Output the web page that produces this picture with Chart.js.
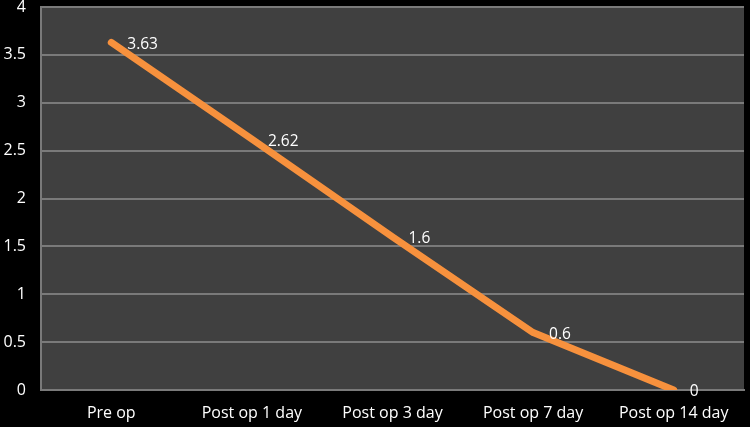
<!DOCTYPE html>
<html>
<head>
<meta charset="utf-8">
<script src="https://cdn.jsdelivr.net/npm/chart.js@4/dist/chart.umd.min.js"></script>
<style>
html,body{margin:0;padding:0;background:#000;}
#wrap{width:750px;height:427px;}
</style>
</head>
<body>
<div id="wrap"><canvas id="c" width="750" height="427"></canvas></div>
<script>
const categories = ["Pre op", "Post op 1 day", "Post op 3 day", "Post op 7 day", "Post op 14 day"];
const values = [3.63, 2.62, 1.6, 0.6, 0];
const yTicks = [0, 0.5, 1, 1.5, 2, 2.5, 3, 3.5, 4];

const FONT = '"Open Sans", "DejaVu Sans", sans-serif';

const bgPlugin = {
  id: 'bg',
  beforeDraw(chart) {
    const {ctx, chartArea: a} = chart;
    ctx.save();
    ctx.fillStyle = '#000';
    ctx.fillRect(0, 0, chart.width, chart.height);
    ctx.fillStyle = '#404040';
    ctx.fillRect(a.left, a.top, a.right - a.left, a.bottom - a.top);
    ctx.restore();
  }
};
const labelPlugin = {
  id: 'labels',
  afterDatasetsDraw(chart) {
    const {ctx} = chart;
    const meta = chart.getDatasetMeta(0);
    ctx.save();
    ctx.fillStyle = '#ffffff';
    ctx.font = '15.5px ' + FONT;
    ctx.textAlign = 'left';
    ctx.textBaseline = 'middle';
    meta.data.forEach((pt, i) => {
      ctx.fillText(String(values[i]), pt.x + 16, pt.y + 2);
    });
    ctx.restore();
  }
};

new Chart(document.getElementById('c'), {
  type: 'line',
  data: {
    labels: categories,
    datasets: [{
      data: values,
      borderColor: '#F7913D',
      borderWidth: 7,
      borderCapStyle: 'round',
      borderJoinStyle: 'round',
      pointRadius: 0,
      tension: 0,
      fill: false
    }]
  },
  options: {
    responsive: false,
    animation: false,
    devicePixelRatio: 1,
    layout: {padding: {left: 0, top: 7, right: 6, bottom: 0}},
    plugins: {legend: {display: false}, tooltip: {enabled: false}},
    scales: {
      x: {
        offset: true,
        grid: {display: false, drawTicks: false, offset: true},
        border: {display: true, color: '#7a7a7a', width: 2},
        ticks: {color: '#ffffff', padding: 14, maxRotation: 0, autoSkip: false, font: {size: 16, family: FONT}},
        afterFit(s) { s.height = 37; }
      },
      y: {
        min: 0, max: 4,
        afterBuildTicks(s) { s.ticks = yTicks.map(v => ({value: v})); },
        grid: {color: '#7a7a7a', lineWidth: 2, drawTicks: false},
        border: {display: true, color: '#7a7a7a', width: 2},
        ticks: {color: '#ffffff', padding: 15, font: {size: 16, family: FONT}, callback: (v) => String(v)},
        afterFit(s) { s.width = 41; s.paddingTop = 0; s.paddingBottom = 0; }
      }
    }
  },
  plugins: [bgPlugin, labelPlugin]
});
</script>
</body>
</html>
